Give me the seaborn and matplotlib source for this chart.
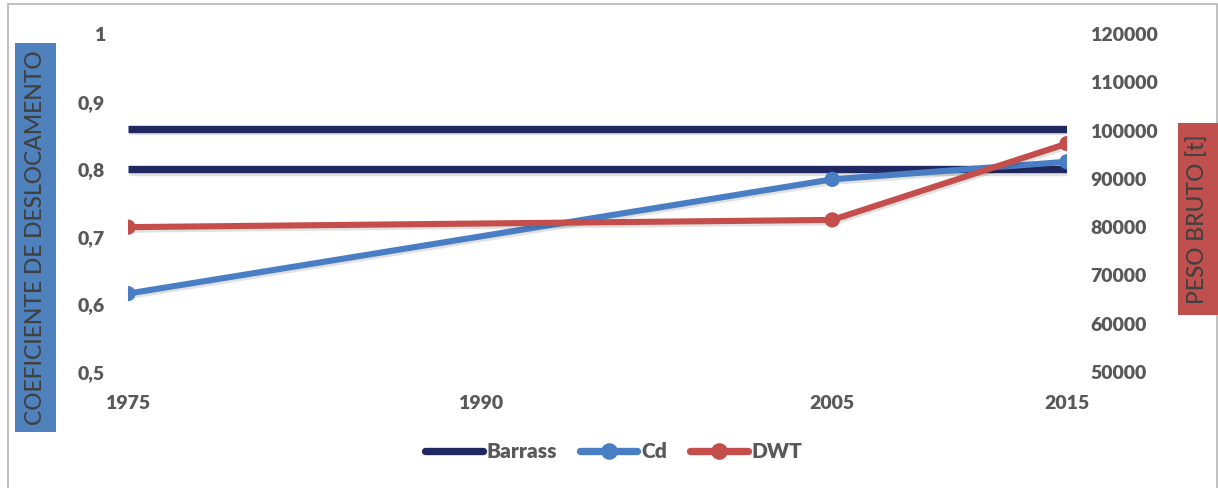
import matplotlib
matplotlib.use("Agg")
import matplotlib.pyplot as plt
import matplotlib.patheffects as pe
from matplotlib import font_manager as fm
from matplotlib.lines import Line2D
from matplotlib.patches import Rectangle
import seaborn as sns
import pandas as pd

# Data
years = [1975, 2005, 2015]
cd_values = [0.616, 0.785, 0.811]
dwt_values = [80000, 81500, 97300]
barrass_years = [1975, 2015]
barrass_upper = [0.86, 0.86]
barrass_lower = [0.80, 0.80]

x_ticks = [1975, 1990, 2005, 2015]
left_ticks = [0.5, 0.6, 0.7, 0.8, 0.9, 1.0]
left_tick_labels = ["0,5", "0,6", "0,7", "0,8", "0,9", "1"]
right_ticks = [50000, 60000, 70000, 80000, 90000, 100000, 110000, 120000]

left_title = "COEFICIENTE DE DESLOCAMENTO"
right_title = "PESO BRUTO [t]"
series_names = ["Barrass", "Cd", "DWT"]

NAVY = "#1F2860"
BLUE = "#4A7EC4"
RED = "#C44E4B"
TICK_GREY = "#595959"
TITLE_GREY = "#404040"

sns.set_theme(style="white")
plt.rcParams["font.family"] = "Lato"


def lato_file(weight):
    cands = [f for f in fm.fontManager.ttflist
             if f.name == "Lato" and f.weight == weight and f.style == "normal"]
    return cands[0].fname if cands else None


bold_path = lato_file(800) or lato_file(700)
med_path = lato_file(500) or lato_file(400)


def font(path, size):
    if path:
        return fm.FontProperties(fname=path, size=size)
    return fm.FontProperties(family="Lato", weight="bold", size=size)


tick_font = font(bold_path, 14)
legend_font = font(bold_path, 15)
title_font = font(med_path, 16.5)

W, H = 1218, 488
fig = plt.figure(figsize=(W / 100, H / 100), dpi=100)
ax = fig.add_axes([128 / W, (H - 372) / H, 939 / W, 338 / H])
ax2 = ax.twinx()

shadow = [pe.SimpleLineShadow(offset=(0.6, -1.8), shadow_color="k", alpha=0.13),
          pe.Normal()]

df_cd = pd.DataFrame({"year": years, "value": cd_values})
df_dwt = pd.DataFrame({"year": years, "value": dwt_values})

for band in (barrass_upper, barrass_lower):
    sns.lineplot(x=barrass_years, y=band, ax=ax, color=NAVY, linewidth=5.3,
                 solid_capstyle="butt", path_effects=shadow, legend=False)

sns.lineplot(data=df_cd, x="year", y="value", ax=ax, color=BLUE, linewidth=4.4,
             marker="o", markersize=11, markeredgewidth=0,
             solid_capstyle="round", path_effects=shadow, legend=False)
sns.lineplot(data=df_dwt, x="year", y="value", ax=ax2, color=RED, linewidth=4.4,
             marker="o", markersize=11, markeredgewidth=0,
             solid_capstyle="round", path_effects=shadow, legend=False)

ax.set_xlim(1975, 2015)
ax.set_ylim(0.5, 1.0)
ax2.set_ylim(50000, 120000)
ax.set_xticks(x_ticks)
ax.set_xticklabels([str(t) for t in x_ticks], fontproperties=tick_font, color=TICK_GREY)
ax.set_yticks(left_ticks)
ax.set_yticklabels(left_tick_labels, fontproperties=tick_font, color=TICK_GREY)
ax2.set_yticks(right_ticks)
ax2.set_yticklabels([str(t) for t in right_ticks], fontproperties=tick_font, color=TICK_GREY)
ax.set_xlabel("")
ax.set_ylabel("")
ax2.set_ylabel("")

for a in (ax, ax2):
    a.grid(False)
    for s in a.spines.values():
        s.set_visible(False)
    a.tick_params(axis="both", length=0, pad=16.5)
ax.patch.set_visible(False)
ax2.patch.set_visible(False)

# Outer frame
fig.patches.append(Rectangle((8 / W, -0.05), 1209 / W, (H - 4.5) / H + 0.05,
                             transform=fig.transFigure, facecolor="none",
                             edgecolor="#BBBBBB", linewidth=1.3))

# Axis title boxes
fig.patches.append(Rectangle((15 / W, (H - 432) / H), 41 / W, 389 / H,
                             transform=fig.transFigure, facecolor="#4F81BD",
                             edgecolor="none"))
fig.text(35.5 / W, 1 - 237.5 / H, left_title, rotation=90, ha="center", va="center",
         fontproperties=title_font, color=TITLE_GREY)
fig.patches.append(Rectangle((1178 / W, (H - 315) / H), 40 / W, 192 / H,
                             transform=fig.transFigure, facecolor="#C0504D",
                             edgecolor="none"))
fig.text(1197.5 / W, 1 - 219 / H, right_title, rotation=90, ha="center", va="center",
         fontproperties=title_font, color=TITLE_GREY)

# Legend
handles = [
    Line2D([], [], color=NAVY, linewidth=5.3, solid_capstyle="round"),
    Line2D([], [], color=BLUE, linewidth=5.3, marker="o", markersize=12,
           markeredgewidth=0, solid_capstyle="round"),
    Line2D([], [], color=RED, linewidth=5.3, marker="o", markersize=12,
           markeredgewidth=0, solid_capstyle="round"),
]
leg = fig.legend(handles, series_names, loc="center", bbox_to_anchor=(614 / W, 1 - 452 / H),
                 ncol=3, frameon=False, prop=legend_font, handlelength=2.75,
                 handletextpad=0.2, columnspacing=1.1)
for t in leg.get_texts():
    t.set_color(TICK_GREY)

fig.savefig("out.png", dpi=100, facecolor="white")
